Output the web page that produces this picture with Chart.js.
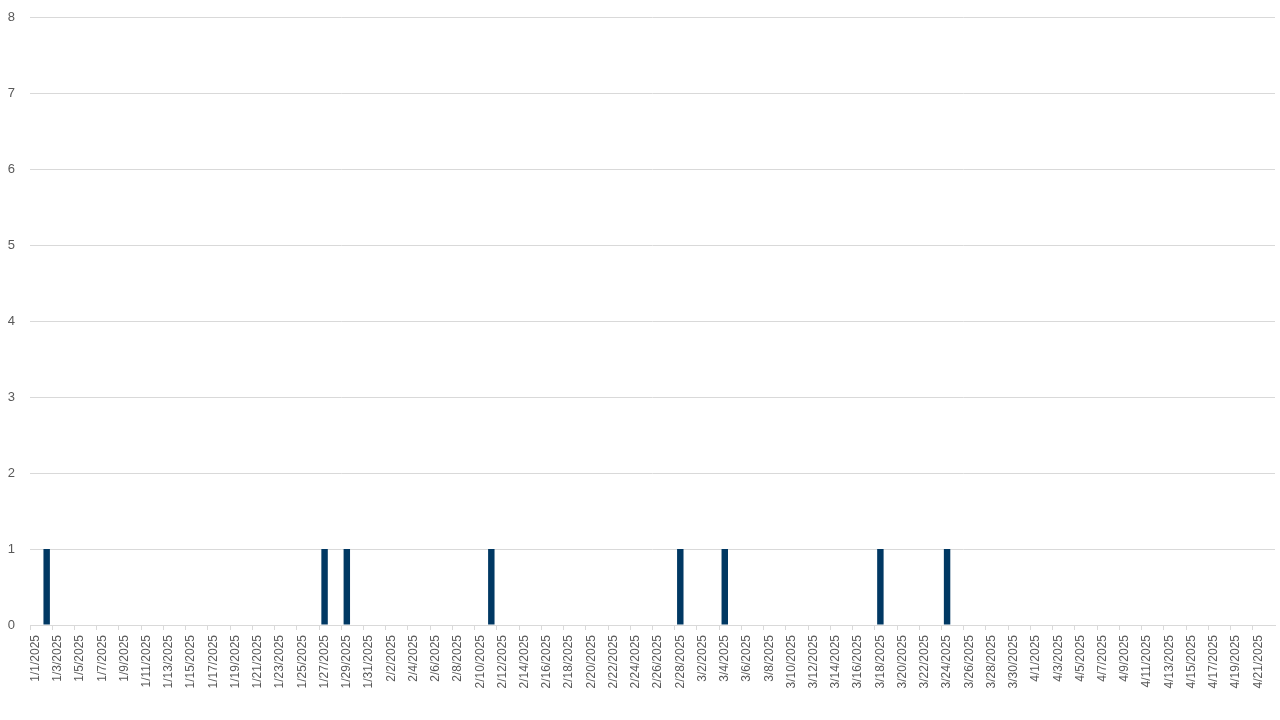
<!DOCTYPE html>
<html>
<head>
<meta charset="utf-8">
<script src="https://cdn.jsdelivr.net/npm/chart.js@4/dist/chart.umd.min.js"></script>
<style>
    html, body { margin: 0; padding: 0; background: #fff; }
    #wrap { width: 1280px; height: 720px; }
</style>
</head>
<body>
<div id="wrap"><canvas id="chart"></canvas></div>
<script>
// Daily dates, 1/1/2025 - 4/22/2025
var janDates = ['1/1/2025','1/2/2025','1/3/2025','1/4/2025','1/5/2025','1/6/2025','1/7/2025','1/8/2025','1/9/2025','1/10/2025',
    '1/11/2025','1/12/2025','1/13/2025','1/14/2025','1/15/2025','1/16/2025','1/17/2025','1/18/2025','1/19/2025','1/20/2025',
    '1/21/2025','1/22/2025','1/23/2025','1/24/2025','1/25/2025','1/26/2025','1/27/2025','1/28/2025','1/29/2025','1/30/2025',
    '1/31/2025'];
var febDates = ['2/1/2025','2/2/2025','2/3/2025','2/4/2025','2/5/2025','2/6/2025','2/7/2025','2/8/2025','2/9/2025','2/10/2025',
    '2/11/2025','2/12/2025','2/13/2025','2/14/2025','2/15/2025','2/16/2025','2/17/2025','2/18/2025','2/19/2025','2/20/2025',
    '2/21/2025','2/22/2025','2/23/2025','2/24/2025','2/25/2025','2/26/2025','2/27/2025','2/28/2025'];
var marDates = ['3/1/2025','3/2/2025','3/3/2025','3/4/2025','3/5/2025','3/6/2025','3/7/2025','3/8/2025','3/9/2025','3/10/2025',
    '3/11/2025','3/12/2025','3/13/2025','3/14/2025','3/15/2025','3/16/2025','3/17/2025','3/18/2025','3/19/2025','3/20/2025',
    '3/21/2025','3/22/2025','3/23/2025','3/24/2025','3/25/2025','3/26/2025','3/27/2025','3/28/2025','3/29/2025','3/30/2025',
    '3/31/2025'];
var aprDates = ['4/1/2025','4/2/2025','4/3/2025','4/4/2025','4/5/2025','4/6/2025','4/7/2025','4/8/2025','4/9/2025','4/10/2025',
    '4/11/2025','4/12/2025','4/13/2025','4/14/2025','4/15/2025','4/16/2025','4/17/2025','4/18/2025','4/19/2025','4/20/2025',
    '4/21/2025','4/22/2025'];

// Daily counts
var janValues = [0,1,0,0,0,0,0,0,0,0, 0,0,0,0,0,0,0,0,0,0, 0,0,0,0,0,0,1,0,1,0, 0];
var febValues = [0,0,0,0,0,0,0,0,0,0, 1,0,0,0,0,0,0,0,0,0, 0,0,0,0,0,0,0,1];
var marValues = [0,0,0,1,0,0,0,0,0,0, 0,0,0,0,0,0,0,1,0,0, 0,0,0,1,0,0,0,0,0,0, 0];
var aprValues = [0,0,0,0,0,0,0,0,0,0, 0,0,0,0,0,0,0,0,0,0, 0,0];

var yTicks = [0, 1, 2, 3, 4, 5, 6, 7, 8];

var labels = janDates.concat(febDates, marDates, aprDates);
var values = janValues.concat(febValues, marValues, aprValues);

var axisGrey = '#d9d9d9';
var textGrey = '#595959';

new Chart(document.getElementById('chart'), {
    type: 'bar',
    data: {
        labels: labels,
        datasets: [{
            data: values,
            backgroundColor: '#003863',
            barPercentage: 0.58,
            categoryPercentage: 1
        }]
    },
    options: {
        responsive: true,
        maintainAspectRatio: false,
        animation: false,
        layout: { padding: { top: 17, right: 5, left: 0, bottom: 0 } },
        plugins: {
            legend: { display: false },
            tooltip: { enabled: false }
        },
        scales: {
            x: {
                afterFit: function (scale) {
                    scale.height = 95;
                    scale.paddingLeft = 0;
                    scale.paddingRight = 0;
                },
                border: { color: axisGrey },
                grid: {
                    offset: true,
                    drawOnChartArea: false,
                    tickLength: 5,
                    color: function (ctx) {
                        return ctx.index % 2 === 0 ? axisGrey : 'rgba(0,0,0,0)';
                    }
                },
                ticks: {
                    autoSkip: false,
                    maxRotation: 90,
                    minRotation: 90,
                    padding: 5,
                    color: textGrey,
                    font: { family: 'Liberation Sans', size: 12 },
                    callback: function (val, i) {
                        return i % 2 === 0 ? this.getLabelForValue(val) : '';
                    }
                }
            },
            y: {
                min: yTicks[0],
                max: yTicks[yTicks.length - 1],
                afterFit: function (scale) {
                    scale.width = 30;
                    scale.paddingTop = 0;
                    scale.paddingBottom = 0;
                },
                afterBuildTicks: function (scale) {
                    scale.ticks = yTicks.map(function (v) { return { value: v }; });
                },
                border: { display: false },
                grid: { color: axisGrey, drawTicks: false },
                ticks: {
                    padding: 15,
                    color: textGrey,
                    font: { family: 'Liberation Sans', size: 13 }
                }
            }
        }
    }
});
</script>
</body>
</html>
